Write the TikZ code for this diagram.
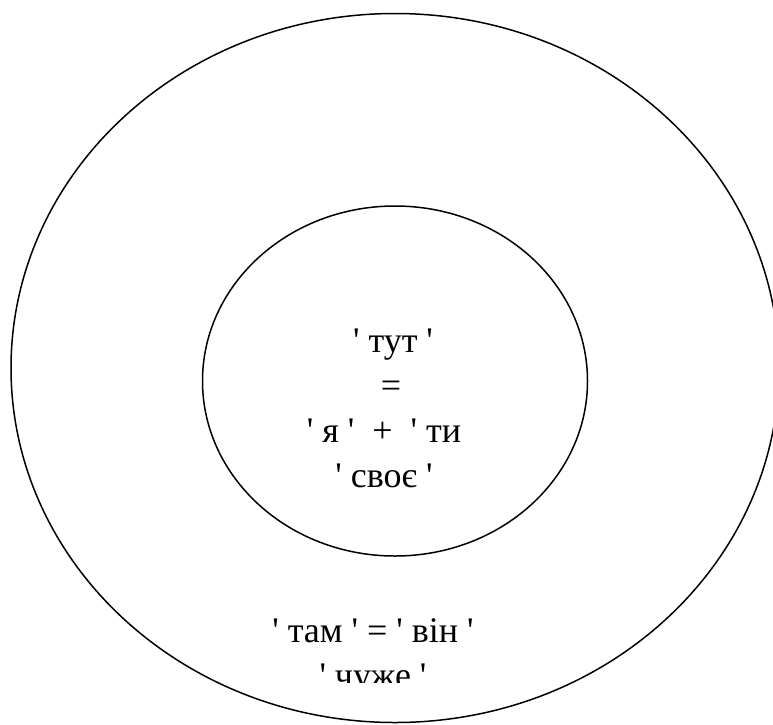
\documentclass[tikz,border=0pt]{standalone}
\usepackage{fontspec}
\setmainfont[Ligatures=TeXOff]{Liberation Serif}
\usetikzlibrary{positioning, shapes.geometric}

\begin{document}
\begin{tikzpicture}[x=1pt, y=-1pt,
    ring/.style={ellipse, draw, line width=1.5pt, inner sep=0pt},
    every node/.style={align=center, font=\rmfamily\fontsize{36}{45}\selectfont}
  ]
  \useasboundingbox (0,0) rectangle (773,724);
  \node[ring, minimum width=768pt, minimum height=709pt] (outer) at (395,368) {};
  \node[ring, minimum width=385pt, minimum height=350pt] (inner) at (395,381) {};
  \node[anchor=base] (here) at (384,487) {\hspace*{18pt}' тут '\\ \hspace*{14pt}=\\' я '\ \ +\ \ ' ти\\' своє '};
  \begin{scope}
    \clip (0,0) rectangle (773,682);
    \node[anchor=base] (there) at (373,687) {' там ' = ' він '\\' чуже '};
  \end{scope}
\end{tikzpicture}
\end{document}
